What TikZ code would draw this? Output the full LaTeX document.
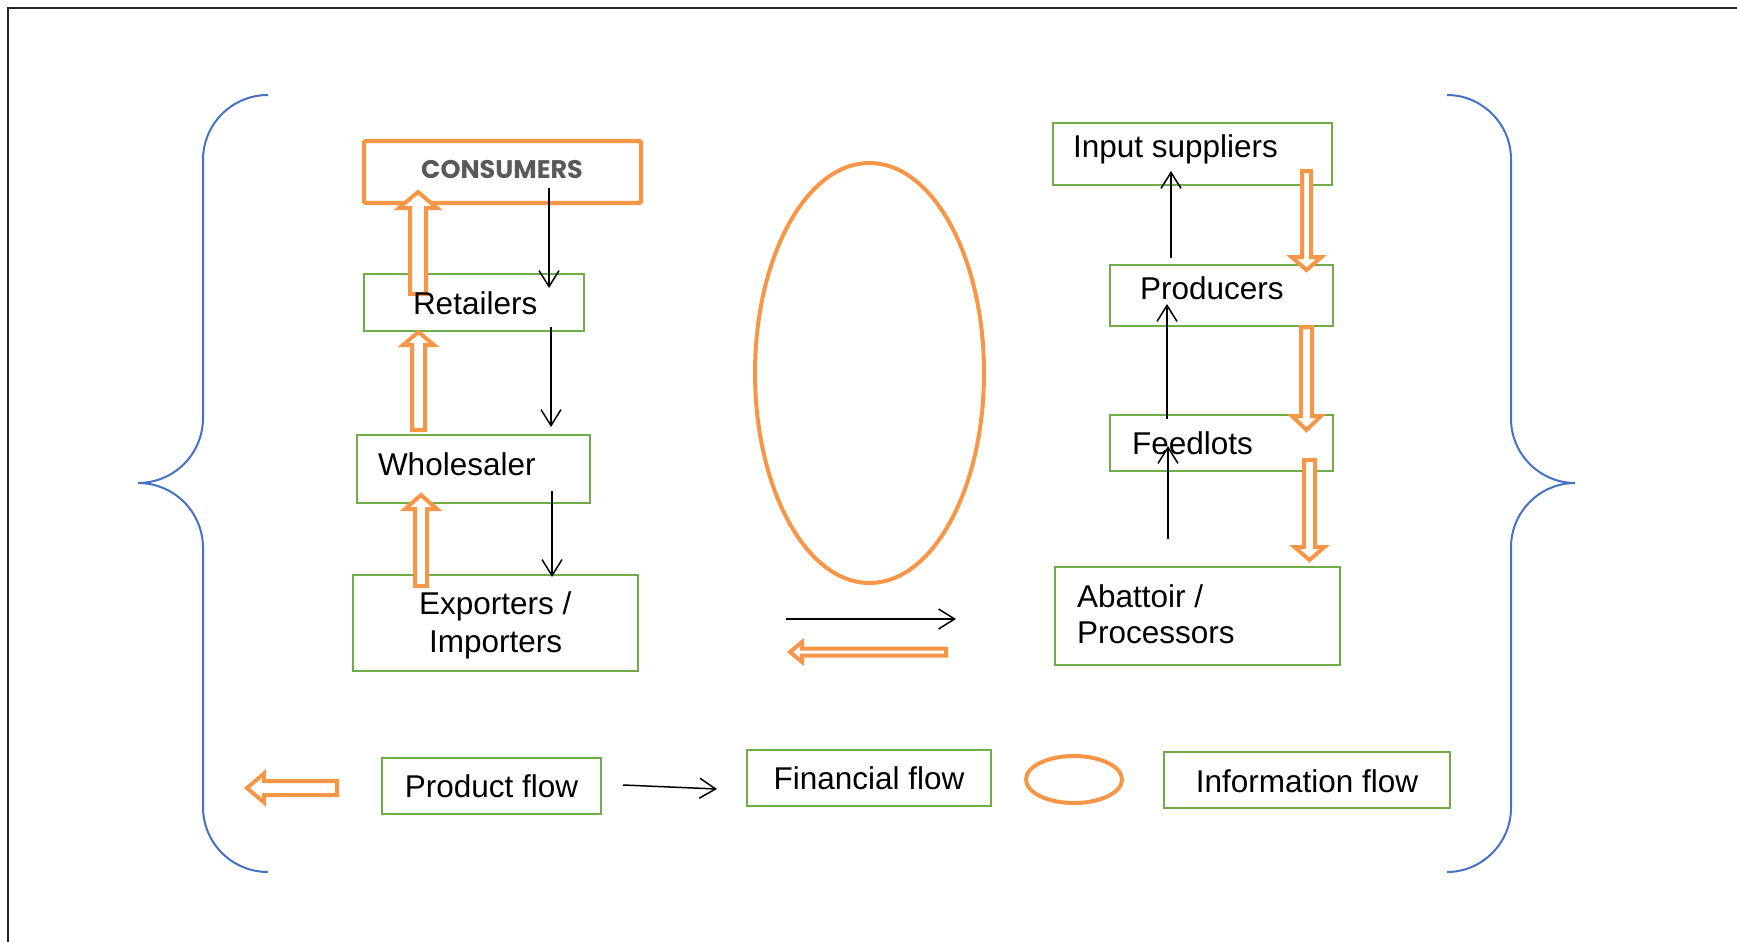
\documentclass[tikz,border=0pt]{standalone}
\usepackage{fontspec}
\setmainfont{Liberation Sans}
\newfontfamily\consfont{Poppins}
\usetikzlibrary{arrows.meta,shapes.geometric}
\definecolor{gr}{HTML}{70AD47}
\definecolor{og}{HTML}{F79646}
\definecolor{bl}{HTML}{4472C4}
\definecolor{gy}{HTML}{595959}
% vertical block arrow: x, ytail, ytip, yheadbase, shaft half width, head half width
\newcommand\vblk[6]{%
  \draw[blkarrow] (#1-#5,#2) -- (#1-#5,#4) -- (#1-#6,#4) -- (#1,#3) -- (#1+#6,#4) -- (#1+#5,#4) -- (#1+#5,#2) -- cycle;}
% horizontal block arrow: y, xtail, xtip, xheadbase, shaft half width, head half width
\newcommand\hblk[6]{%
  \draw[blkarrow] (#2,#1-#5) -- (#4,#1-#5) -- (#4,#1-#6) -- (#3,#1) -- (#4,#1+#6) -- (#4,#1+#5) -- (#2,#1+#5) -- cycle;}
\tikzset{
  gbox/.style={draw=gr, line width=2.5pt, inner sep=0pt, outer sep=0pt},
  lbl/.style={inner sep=0pt, outer sep=0pt, font=\fontsize{31.5pt}{36pt}\selectfont, text=black},
  blkarrow/.style={draw=og, fill=white, line width=4pt, line join=miter},
  farrow/.style={draw=black, line width=1.5pt, -{Straight Barb[length=16pt,width=20pt]}},
  brace/.style={draw=bl, line width=2pt},
  oell/.style={draw=og, line width=4pt, ellipse, inner sep=0pt, outer sep=0pt},
}
\begin{document}
\begin{tikzpicture}[x=1pt,y=-1pt]
\useasboundingbox (0,0) rectangle (1737,942);
% frame
\draw[line width=2pt, black!85] (8,942) -- (8,8) -- (1737,8);
% braces
\draw[brace] (268,95) .. controls (232,95) and (203,124) .. (203,160) -- (203,418)
  .. controls (203,454) and (174,483) .. (138,483)
  .. controls (174,483) and (203,512) .. (203,548) -- (203,807)
  .. controls (203,843) and (232,872) .. (268,872);
\draw[brace] (1447,95) .. controls (1482,95) and (1511,124) .. (1511,159) -- (1511,419)
  .. controls (1511,454) and (1540,483) .. (1575,483)
  .. controls (1540,483) and (1511,512) .. (1511,547) -- (1511,808)
  .. controls (1511,843) and (1482,872) .. (1447,872);
% boxes
\node[draw=og, line width=4.3pt, rounded corners=1.5pt, inner sep=0pt, outer sep=0pt,
  minimum width=277pt, minimum height=62pt] (cons) at (502.5,172) {};
\node[gbox, minimum width=220pt, minimum height=57pt] (ret) at (474,302.5) {};
\node[gbox, minimum width=233pt, minimum height=68pt] (whol) at (473.5,469) {};
\node[gbox, minimum width=285pt, minimum height=96pt] (exp) at (495.5,623) {};
\node[gbox, minimum width=279pt, minimum height=62pt] (inp) at (1192.5,154) {};
\node[gbox, minimum width=223pt, minimum height=61pt] (prod) at (1221.5,295.5) {};
\node[gbox, minimum width=223pt, minimum height=56pt] (feed) at (1221.5,443) {};
\node[gbox, minimum width=285pt, minimum height=98pt] (abat) at (1197.5,616) {};
\node[gbox, minimum width=219pt, minimum height=56pt] (lprod) at (491.5,786) {};
\node[gbox, minimum width=244pt, minimum height=56pt] (lfin) at (869,778) {};
\node[gbox, minimum width=286pt, minimum height=56pt] (linf) at (1307,780) {};
% ellipses
\node[oell, minimum width=229pt, minimum height=420pt] (info) at (869.5,373) {};
\node[oell, minimum width=96pt, minimum height=47pt] (linfo) at (1074,779.5) {};
% block arrows (product flow)
\vblk{418}{294}{192}{208}{8}{19}
\vblk{418.5}{430}{332}{345}{6.5}{15.5}
\vblk{421}{586}{495}{509}{6}{16}
\vblk{1306.5}{171}{270}{257}{4.5}{15}
\vblk{1306.5}{327}{430}{416}{5.5}{14.5}
\vblk{1309.5}{460}{560}{547}{5.5}{15}
\hblk{652}{946}{790}{802}{3.5}{10}
\hblk{788}{337}{247}{264}{7}{14.5}
% financial flow arrows
\coordinate (d1a) at (549,188); \coordinate (d1b) at (549,288);
\coordinate (d2a) at (551,327); \coordinate (d2b) at (551,427);
\coordinate (d3a) at (552,491); \coordinate (d3b) at (552,577);
\coordinate (e1a) at (1171,258); \coordinate (e1b) at (1171,171);
\coordinate (e2a) at (1167,419); \coordinate (e2b) at (1167,304);
\coordinate (e3a) at (1168,539); \coordinate (e3b) at (1168,446);
\coordinate (f1a) at (786,619); \coordinate (f1b) at (956,619);
\coordinate (f2a) at (623,785); \coordinate (f2b) at (717,789);
\draw[farrow] (d1a) -- (d1b);
\draw[farrow] (d2a) -- (d2b);
\draw[farrow] (d3a) -- (d3b);
\draw[farrow] (e1a) -- (e1b);
\draw[farrow] (e2a) -- (e2b);
\draw[farrow] (e3a) -- (e3b);
\draw[farrow] (f1a) -- (f1b);
\draw[farrow] (f2a) -- (f2b);
% labels
\node[inner sep=0pt, anchor=base, text=gy, font=\consfont\bfseries\fontsize{25.5pt}{30pt}\selectfont] (tcons) at (502,178.7) {CONSUMERS};
\node[lbl, anchor=base west] (tret) at (413,314) {Retailers};
\node[lbl, anchor=base west] (twhol) at (378,475) {Wholesaler};
\node[lbl, anchor=base west] (texp1) at (419,614) {Exporters /};
\node[lbl, anchor=base west] (texp2) at (429,652) {Importers};
\node[lbl, anchor=base west] (tinp) at (1073,157) {Input suppliers};
\node[lbl, anchor=base west] (tprod) at (1140,299) {Producers};
\node[lbl, anchor=base west] (tfeed) at (1132,454) {Feedlots};
\node[lbl, anchor=base west] (tabat1) at (1077,607) {Abattoir /};
\node[lbl, anchor=base west] (tabat2) at (1077,643) {Processors};
\node[lbl, anchor=base] (tlprod) at (491.5,797) {Product flow};
\node[lbl, anchor=base] (tlfin) at (869,789.5) {Financial flow};
\node[lbl, anchor=base] (tlinf) at (1307,792) {Information flow};
\end{tikzpicture}
\end{document}
